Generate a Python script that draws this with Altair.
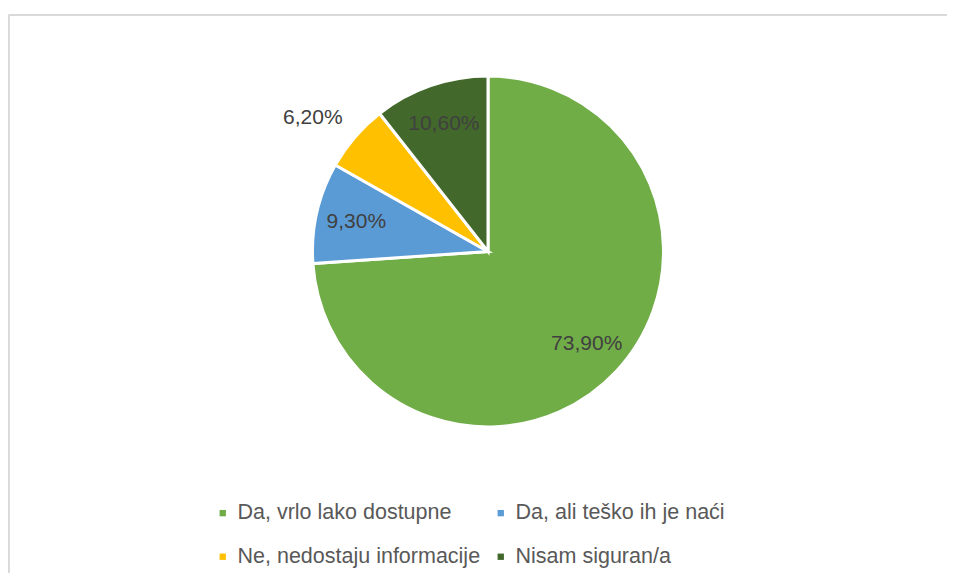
import altair as alt
import pandas as pd

categories = ["Da, vrlo lako dostupne", "Da, ali teško ih je naći",
              "Ne, nedostaju informacije", "Nisam siguran/a"]
values = [73.9, 9.3, 6.2, 10.6]
colors = ["#70AD47", "#5B9BD5", "#FFC000", "#43682B"]

df = pd.DataFrame({"cat": categories, "value": values, "idx": list(range(len(values)))})

# legend is filled column by column: reorder so it reads row by row
leg_order = [0, 2, 1, 3]
leg_domain = [categories[i] for i in leg_order]
leg_range = [colors[i] for i in leg_order]

W, H = 939, 565
CX, CY, R = 480, 243.5, 175.5
FONT = "Liberation Sans"

base = alt.Chart(df).encode(
    theta=alt.Theta("value:Q", stack=True),
    order=alt.Order("idx:Q"),
    x=alt.value(CX),
    y=alt.value(CY),
)

pie = base.mark_arc(radius=R, stroke="white", strokeWidth=3).encode(
    color=alt.Color(
        "cat:N",
        scale=alt.Scale(domain=leg_domain, range=leg_range),
        legend=alt.Legend(
            title=None, orient="none", legendX=204, legendY=494, columns=2,
            symbolType="square", symbolSize=40, symbolStrokeWidth=0,
            labelFont=FONT, labelFontSize=21.5, labelColor="#595959",
            labelOffset=4, rowPadding=21, columnPadding=9, padding=0,
            labelLimit=400,
        ),
    )
)

lab_expr = "replace(format(datum.value, '.2f'), '.', ',') + '%'"

inner = base.transform_calculate(
    lab=f"datum.value >= 7 ? {lab_expr} : ''"
).mark_text(radius=135, font=FONT, fontSize=21, color="#404040").encode(text="lab:N")

outer = base.transform_calculate(
    lab=f"datum.value < 7 ? {lab_expr} : ''"
).mark_text(radius=220, thetaOffset=-0.06, font=FONT, fontSize=21, color="#404040").encode(text="lab:N")

border_top = alt.Chart(df).mark_rule(color="#d9d9d9", strokeWidth=1.5).encode(
    x=alt.value(0.75), x2=alt.value(W), y=alt.value(7)
)
border_left = alt.Chart(df).mark_rule(color="#d9d9d9", strokeWidth=1.5).encode(
    x=alt.value(0.75), y=alt.value(7), y2=alt.value(H)
)

chart = alt.layer(border_top, border_left, pie, inner, outer).properties(
    width=W, height=H, autosize=alt.AutoSizeParams(type="none"), padding=0
).configure_view(stroke=None)

chart.save("out.html", embed_options={"renderer": "svg", "actions": False})
